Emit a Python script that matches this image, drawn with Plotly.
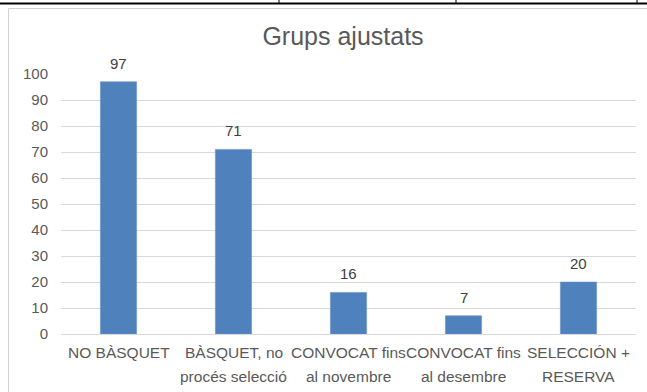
import plotly.graph_objects as go

categories = ["NO BÀSQUET", "BÀSQUET, no\nprocés selecció", "CONVOCAT fins\nal novembre",
              "CONVOCAT fins\nal desembre", "SELECCIÓN +\nRESERVA"]
values = [97, 71, 16, 7, 20]
y_ticks = [0, 10, 20, 30, 40, 50, 60, 70, 80, 90, 100]
title_text = "Grups ajustats"

W, H = 647, 392
L, R, T, B = 61, 11, 74, 58
FONT = "Liberation Sans, Arial, Helvetica, sans-serif"
BAR = "#4F81BD"

x_idx = list(range(len(categories)))

fig = go.Figure(go.Bar(
    x=x_idx, y=values, marker=dict(color=BAR, line=dict(color="#6A94C8", width=0.6)),
    width=0.315, hoverinfo="skip",
))

annotations = []
for i, v in zip(x_idx, values):
    annotations.append(dict(x=i, y=v, xref="x", yref="y", text=str(v), showarrow=False,
                            yanchor="bottom", yshift=8,
                            font=dict(family=FONT, size=15, color="#404040")))
for i, c in zip(x_idx, categories):
    lines = c.split("\n")
    for k, ln in enumerate(lines):
        annotations.append(dict(x=i, y=(334 - (352 + 24 * k)) / 260, xref="x", yref="paper",
                                text=ln, showarrow=False, yanchor="middle",
                                font=dict(family=FONT, size=15.5, color="#595959")))

def px(xp):
    return (xp - L) / (W - L - R)

def py(yp):
    return (H - B - yp) / (H - T - B)

shapes = [
    # chart frame
    dict(type="line", xref="paper", yref="paper", x0=px(8.5), x1=px(8.5), y0=py(8.5), y1=py(400),
         line=dict(color="#D0D0D0", width=1)),
    dict(type="line", xref="paper", yref="paper", x0=px(8.5), x1=px(660), y0=py(8.5), y1=py(8.5),
         line=dict(color="#D0D0D0", width=1)),
    # table border above
    dict(type="line", xref="paper", yref="paper", x0=px(-5), x1=px(660), y0=py(3.5), y1=py(3.5),
         line=dict(color="#000000", width=2)),
]
for xv in [279, 456, 637]:
    shapes.append(dict(type="line", xref="paper", yref="paper", x0=px(xv), x1=px(xv),
                       y0=py(-2), y1=py(4), line=dict(color="#000000", width=1)))

fig.update_layout(
    width=W, height=H,
    margin=dict(l=L, r=R, t=T, b=B),
    paper_bgcolor="white", plot_bgcolor="white",
    title=dict(text=title_text, x=(343 - 0) / W, xanchor="center", y=1 - 36 / H, yanchor="middle",
               font=dict(family=FONT, size=25, color="#595959")),
    xaxis=dict(range=[-0.5, len(categories) - 0.5], showticklabels=False, showgrid=False,
               zeroline=False, showline=False, fixedrange=True),
    yaxis=dict(range=[0, 100], tickvals=y_ticks, showgrid=True, gridcolor="#D9D9D9", gridwidth=1,
               zeroline=True, zerolinecolor="#D9D9D9", zerolinewidth=1, showline=False,
               ticks="", ticklabelstandoff=12,
               tickfont=dict(family=FONT, size=15, color="#595959"), fixedrange=True),
    annotations=annotations,
    shapes=shapes,
    showlegend=False,
)

fig.write_html("out.html")
